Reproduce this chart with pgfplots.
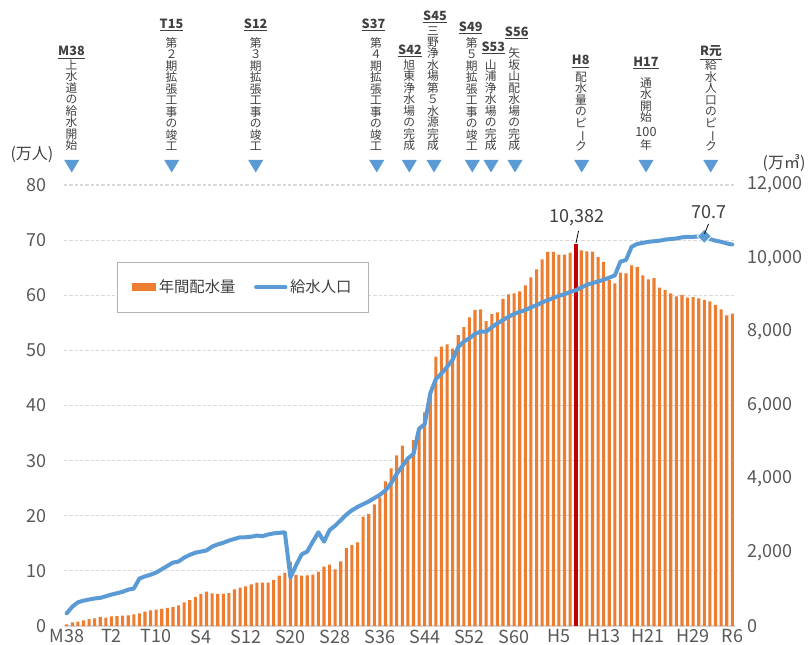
\documentclass[border=0pt]{standalone}
\usepackage{fontspec}
\setmainfont{Noto Sans CJK JP}
\usepackage{graphicx}
\usepackage{pgfplots}
\pgfplotsset{compat=1.18}
\definecolor{orangeA}{HTML}{ED7D31}
\definecolor{blueA}{HTML}{5B9BD5}
\definecolor{redA}{HTML}{C00000}
\definecolor{gridA}{HTML}{D9D9D9}
\definecolor{tickA}{HTML}{595959}
\definecolor{textA}{HTML}{404040}
\newcommand{\vb}{\smash{\rotatebox[origin=c]{-90}{ー}}}
\newcommand{\tri}[1]{\fill[blueA] (#1-7.5,160) -- (#1+7.5,160) -- (#1,172.5) -- cycle;}
\newcommand{\ann}[5]{%
  \node[font=\fontsize{9.5}{10}\selectfont\bfseries, text=textA, inner sep=0pt] at (#1,#2) {\underline{#3}};
  \node[anchor=south, align=center, font=\fontsize{8.8}{8.6}\selectfont, text=textA, inner sep=0pt] at (#4,151) {#5};
}
\pgfplotsset{
  base/.style={at={(47.925pt,13.5pt)}, anchor=south west, scale only axis,
    width=503.4pt, height=330.75pt, xmin=1904.5, xmax=2024.5,
    tick style={draw=none}, major tick length=0pt,
    ticklabel style={font=\fontsize{13.5}{15}\selectfont, text=tickA},
    scaled y ticks=false,
    /pgf/number format/.cd, 1000 sep={,}, assume math mode=true},
}
\begin{document}
\begin{tikzpicture}
\path[use as bounding box] (0pt,0pt) rectangle (608.25pt,483pt);
% axis A: grid, left labels, x labels
\begin{axis}[base, ymin=0, ymax=80, ytick={0,10,...,80},
  ymajorgrids, grid style={gridA, line width=0.8pt, dash pattern=on 2.5pt off 1.5pt},
  separate axis lines, axis x line*=bottom, axis y line*=left,
  x axis line style={gridA, line width=1.1pt, -}, y axis line style={draw=none},
  yticklabel style={inner sep=0pt, anchor=east, xshift=-12.7pt},
  xtick={1905,1913,1921,1929,1937,1945,1953,1961,1969,1977,1985,1993,2001,2009,2017,2024},
  xticklabels={M38,T2,T10,S4,S12,S20,S28,S36,S44,S52,S60,H5,H13,H21,H29,R6},
  xticklabel style={inner sep=0pt, anchor=north, yshift=-2.5pt},
  ]
\addplot[draw=none] coordinates {(1905,0)};
\end{axis}
% axis B: bars
\begin{axis}[base, ymin=0, ymax=12000, ytick={0,2000,...,12000},
  axis x line=none, axis y line*=right, y axis line style={draw=none},
  yticklabel style={inner sep=0pt, anchor=west, xshift=9pt},
  ]
\addplot[ybar, bar shift=0pt, bar width=0.55, fill=orangeA, draw=none] coordinates {
(1905,46)(1906,100)(1907,118)(1908,154)(1909,190)(1910,209)(1911,245)(1912,227)(1913,263)(1914,272)
(1915,281)(1916,290)(1917,318)(1918,345)(1919,390)(1920,426)(1921,445)(1922,463)(1923,490)(1924,517)
(1925,563)(1926,644)(1927,707)(1928,795)(1929,871)(1930,934)(1931,889)(1932,871)(1933,880)(1934,898)
(1935,998)(1936,1043)(1937,1080)(1938,1134)(1939,1179)(1940,1179)(1941,1179)(1942,1252)(1943,1369)(1944,1451)
(1945,1745)(1946,1388)(1947,1369)(1948,1379)(1949,1397)(1950,1478)(1951,1614)(1952,1669)(1953,1542)(1954,1760)
(1955,2122)(1956,2204)(1957,2277)(1958,2975)(1959,3048)(1960,3311)(1961,3502)(1962,3937)(1963,4291)(1964,4645)
(1965,4910)(1966,4600)(1967,5061)(1968,5333)(1969,5815)(1970,6332)(1971,7328)(1972,7600)(1973,7665)(1974,7546)
(1975,7918)(1976,8136)(1977,8400)(1978,8599)(1979,8617)(1980,8299)(1981,8490)(1982,8536)(1983,8898)(1984,9026)
(1985,9053)(1986,9107)(1987,9271)(1988,9488)(1989,9706)(1990,9978)(1991,10177)(1992,10177)(1993,10104)(1994,10104)
(1995,10158)(1997,10223)(1998,10195)(1999,10186)(2000,10041)(2001,9905)(2002,9415)(2003,9325)(2004,9614)
(2005,9597)(2006,9815)(2007,9769)(2008,9543)(2009,9434)(2010,9469)(2011,9206)(2012,9143)(2013,9053)(2014,8971)
(2015,9007)(2016,8933)(2017,8952)(2018,8917)(2019,8871)(2020,8835)(2021,8735)(2022,8617)(2023,8454)(2024,8499)
};
\addplot[ybar, bar shift=0pt, bar width=0.75, fill=redA, draw=none] coordinates {(1996,10382)};
\end{axis}
% axis C: population line
\begin{axis}[base, ymin=0, ymax=80, hide axis,
  legend style={at={(0.0791,0.8254)}, anchor=north west, draw=gray!60, line width=0.9pt, fill=white,
    font=\fontsize{11.5}{13}\selectfont, text=textA, legend columns=2,
    inner xsep=11pt, inner ysep=11pt,
    /tikz/every even column/.append style={column sep=12pt}},
  ]
\addlegendimage{legend image code/.code={\fill[orangeA] (0pt,-2.6pt) rectangle (17pt,2.6pt);}}
\addlegendentry{年間配水量}
\addplot[blueA, line width=3pt, line join=round, line cap=round,
  legend image code/.code={\draw[blueA, line width=3pt] (0pt,0pt) -- (22pt,0pt);}] coordinates {
(1905,2.3)(1906,3.5)(1907,4.3)(1908,4.6)(1909,4.8)(1910,5.0)(1911,5.1)(1912,5.4)(1913,5.7)(1914,5.95)
(1915,6.2)(1916,6.6)(1917,6.8)(1918,8.6)(1919,9.0)(1920,9.3)(1921,9.7)(1922,10.3)(1923,10.9)(1924,11.5)
(1925,11.7)(1926,12.4)(1927,12.9)(1928,13.3)(1929,13.5)(1930,13.7)(1931,14.4)(1932,14.8)(1933,15.1)(1934,15.5)
(1935,15.8)(1936,16.1)(1937,16.1)(1938,16.2)(1939,16.4)(1940,16.3)(1941,16.6)(1942,16.8)(1943,16.9)(1944,17.0)
(1945,8.8)(1946,11.0)(1947,13.0)(1948,13.5)(1949,15.3)(1950,17.0)(1951,15.3)(1952,17.4)(1953,18.2)(1954,19.2)
(1955,20.2)(1956,21.0)(1957,21.6)(1958,22.1)(1959,22.6)(1960,23.2)(1961,23.8)(1962,24.6)(1963,25.9)(1964,27.6)
(1965,29.0)(1966,30.4)(1967,31.2)(1968,35.8)(1969,36.6)(1970,42.2)(1971,44.8)(1972,45.8)(1973,47.0)(1974,48.3)
(1975,50.6)(1976,51.6)(1977,52.2)(1978,53.0)(1979,53.4)(1980,53.4)(1981,54.2)(1982,54.9)(1983,55.5)(1984,56.1)
(1985,56.6)(1986,57.0)(1987,57.3)(1988,57.8)(1989,58.2)(1990,58.7)(1991,59.1)(1992,59.5)(1993,59.9)(1994,60.2)
(1995,60.6)(1996,60.9)(1997,61.4)(1998,61.9)(1999,62.2)(2000,62.5)(2001,62.8)(2002,63.2)(2003,63.6)(2004,66.1)
(2005,66.4)(2006,68.8)(2007,69.3)(2008,69.5)(2009,69.7)(2010,69.8)(2011,69.9)(2012,70.1)(2013,70.2)(2014,70.3)
(2015,70.5)(2016,70.6)(2017,70.6)(2018,70.65)(2019,70.7)(2020,70.2)(2021,69.9)(2022,69.7)(2023,69.4)(2024,69.2)
};
\addlegendentry{給水人口\hspace{22pt}}
\addplot[forget plot, only marks, mark=square*, mark size=3.8pt, mark options={rotate=45, fill=blueA, draw=white, line width=0.6pt}] coordinates {(2019,70.7)};
\end{axis}
% annotations in image pixel coordinates
\begin{scope}[x=0.75pt, y=-0.75pt, shift={(0pt,483pt)}]
\node[font=\fontsize{12}{13}\selectfont, text=textA, inner sep=0pt] at (32,155) {(万人)};
\node[font=\fontsize{12}{13}\selectfont, text=textA, inner sep=0pt] at (784,163) {(万㎥)};
\node[font=\fontsize{13.5}{15}\selectfont, text=textA, inner sep=0pt] at (577,218) {10,382};
\draw[black, line width=0.6pt] (578.5,231) -- (576,243);
\node[font=\fontsize{13.5}{15}\selectfont, text=textA, inner sep=0pt] at (709,212) {70.7};
\draw[black, line width=0.6pt] (708.5,224) -- (704.5,234);
\ann{71.5}{52.7}{M38}{71.5}{上\\水\\道\\の\\給\\水\\開\\始}
\ann{171.5}{25}{T15}{171.5}{第\\２\\期\\拡\\張\\工\\事\\の\\竣\\工}
\ann{255.7}{25}{S12}{255.7}{第\\３\\期\\拡\\張\\工\\事\\の\\竣\\工}
\ann{373.5}{25}{S37}{376}{第\\４\\期\\拡\\張\\工\\事\\の\\竣\\工}
\ann{410}{51}{S42}{409.3}{旭\\東\\浄\\水\\場\\の\\完\\成}
\ann{435}{16.7}{S45}{433}{三\\野\\浄\\水\\場\\第\\５\\水\\源\\完\\成}
\ann{470.7}{27.7}{S49}{471.7}{第\\５\\期\\拡\\張\\工\\事\\の\\竣\\工}
\ann{493.3}{47.7}{S53}{490.7}{山\\浦\\浄\\水\\場\\の\\完\\成}
\ann{516.7}{33.3}{S56}{514.3}{矢\\坂\\山\\配\\水\\場\\の\\完\\成}
\ann{580.7}{61.7}{H8}{581}{配\\水\\量\\の\\ピ\\\vb\\ク}
\ann{646}{63.5}{H17}{646}{通\\水\\開\\始\\[2.5pt]{\fontsize{9.5}{8.6}\selectfont 100}\\[1.5pt]年}
\ann{711}{52.7}{R元}{711}{給\\水\\人\\口\\の\\ピ\\\vb\\ク}
\tri{71.7}\tri{171.7}\tri{255.7}\tri{376.7}\tri{409.3}\tri{434}
\tri{472.3}\tri{491}\tri{515}\tri{581.7}\tri{646}\tri{710.7}
\end{scope}
\end{tikzpicture}
\end{document}
